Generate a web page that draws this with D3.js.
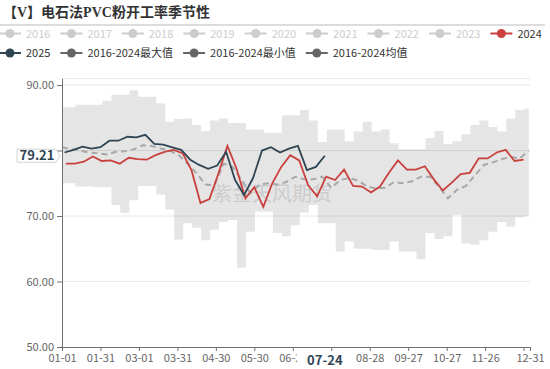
<!DOCTYPE html>
<html>
<head>
<meta charset="utf-8">
<script src="https://cdn.jsdelivr.net/npm/d3@7"></script>
<style>
body { margin: 0; background: #fff; }
svg { display: block; font-family: "Noto Sans CJK SC", "Noto Sans", sans-serif; }
</style>
</head>
<body>
<svg id="chart" width="550" height="369"></svg>
<script>
// weekly dates of the 2016-2024 statistics (placed on a 2024 calendar)
var weeks = ["01-01","01-08","01-15","01-22","01-29","02-05","02-12","02-19","02-26","03-04","03-11","03-18","03-25",
	"04-01","04-08","04-15","04-22","04-29","05-06","05-13","05-20","05-27","06-03","06-10","06-17","06-24",
	"07-01","07-08","07-15","07-22","07-29","08-05","08-12","08-19","08-26","09-02","09-09","09-16","09-23","09-30",
	"10-07","10-14","10-21","10-28","11-04","11-11","11-18","11-25","12-02","12-09","12-16","12-23","12-30"]
var maxVals = [86.6,86.6,87.0,87.0,87.0,87.6,88.5,88.5,89.2,88.2,88.2,87.2,84.4,84.8,84.9,83.9,83.0,84.6,84.9,84.2,
	84.2,83.2,83.2,82.7,82.7,85.4,85.4,86.2,84.6,81.3,83.2,83.2,81.4,82.9,84.4,82.9,83.2,81.1,80.2,80.2,
	80.2,81.9,83.0,81.0,81.4,82.5,83.9,84.6,83.6,82.9,84.9,86.2,86.4]
var minVals = [75.0,75.0,74.5,74.5,74.4,74.4,71.7,70.5,72.4,74.6,74.6,73.3,71.0,66.4,68.9,68.2,66.3,67.9,69.1,69.4,
	62.1,67.6,70.7,70.7,67.4,66.9,68.6,70.5,71.7,68.9,68.9,64.6,66.1,65.0,65.0,64.8,64.8,66.1,64.6,64.6,
	63.4,67.4,66.5,66.9,70.2,65.8,65.6,66.3,67.6,69.1,68.4,69.8,70.0]
var avgVals = [80.5,80.2,80.0,79.7,79.6,79.4,79.8,79.9,80.2,80.8,80.7,80.3,80.0,79.3,78.0,76.5,74.8,74.7,78.0,77.5,
	75.5,73.5,74.8,75.0,74.8,75.2,76.0,75.6,75.6,76.0,74.3,75.5,75.8,75.4,74.5,74.2,74.3,75.2,75.0,75.3,
	76.0,76.0,74.5,72.7,74.0,74.6,76.2,77.8,78.2,78.7,79.0,78.8,80.0]

var dates2024 = ["01-04","01-11","01-18","01-25","02-01","02-08","02-15","02-22","02-29","03-07","03-14","03-21","03-28",
	"04-04","04-11","04-18","04-25","05-02","05-09","05-16","05-23","05-30","06-06","06-13","06-20","06-27",
	"07-04","07-11","07-18","07-25","08-01","08-08","08-15","08-22","08-29","09-05","09-12","09-19","09-26",
	"10-03","10-10","10-17","10-24","10-31","11-07","11-14","11-21","11-28","12-05","12-12","12-19","12-26"]
var vals2024 = [78.0,78.0,78.3,79.1,78.4,78.5,78.0,78.9,78.7,78.6,79.3,79.8,80.1,79.6,77.0,72.0,72.6,76.5,80.7,77.3,
	72.7,74.4,71.4,75.0,77.5,79.3,78.5,74.7,73.0,76.0,75.5,77.1,74.6,74.5,73.6,74.5,76.6,78.5,77.1,77.1,
	77.6,75.6,73.9,75.1,76.4,76.6,78.8,78.8,79.7,80.1,78.4,78.6]

var dates2025 = ["01-03","01-10","01-17","01-24","01-31","02-07","02-14","02-21","02-28","03-06","03-13","03-20","03-27",
	"04-03","04-10","04-17","04-24","05-01","05-08","05-15","05-22","05-29","06-05","06-12","06-19","06-26",
	"07-03","07-10","07-17","07-24"]
var vals2025 = [79.7,80.1,80.6,80.3,80.5,81.5,81.5,82.1,82.0,82.4,81.0,80.9,80.5,80.1,78.6,77.8,77.2,77.7,79.8,75.5,
	73.2,75.8,80.0,80.5,79.7,80.3,80.7,77.0,77.5,79.21]

var yTicks = [50, 60, 70, 80, 90]
var xTicks = ["01-01","01-31","03-01","03-31","04-30","05-30","06-29","07-29","08-28","09-27","10-27","11-26","12-26","12-31"]
// labels that sit under the pointer label or crowd the last one
var xHidden = ["07-29", "12-26"]

var legendTop = ["2016","2017","2018","2019","2020","2021","2022","2023","2024"]
var legendBottom = ["2025","2016-2024最大值","2016-2024最小值","2016-2024均值"]

var pointerDate = "07-24", pointerValue = 79.21
var title = "【V】电石法PVC粉开工率季节性"

var parse = d3.timeParse("%Y-%m-%d")
function day(s) { return parse("2024-" + s) }

var svg = d3.select("#chart")

var x = d3.scaleTime()
	.domain([day("01-01"), day("12-31")])
	.range([62, 530])

var y = d3.scaleLinear()
	.domain([50, 91])
	.range([347, 78.5])

// title + separator
svg.append("text")
	.attr("x", 3).attr("y", 17)
	.attr("font-family", "'Liberation Serif', 'Noto Sans CJK SC', serif")
	.attr("font-size", 14).attr("font-weight", "bold")
	.attr("fill", "#333")
	.text(title)

svg.append("line")
	.attr("x1", 0).attr("x2", 545).attr("y1", 25).attr("y2", 25)
	.attr("stroke", "#dcdcdc").attr("stroke-width", 2)

// legend
var colors = {"2024": "#c9403c", "2025": "#2f4554", "2016-2024最大值": "#666", "2016-2024最小值": "#666", "2016-2024均值": "#666"}

function legendRow(items, yy) {
	var cx = -1
	items.forEach(function(name) {
		var c = colors[name] || "#ccc"
		var g = svg.append("g")
		g.append("line")
			.attr("x1", cx).attr("x2", cx + 22).attr("y1", yy).attr("y2", yy)
			.attr("stroke", c).attr("stroke-width", 2)
		g.append("circle")
			.attr("cx", cx + 11).attr("cy", yy).attr("r", 4.5)
			.attr("fill", c)
		var t = g.append("text")
			.attr("x", cx + 27).attr("y", yy + 4)
			.attr("font-size", 11)
			.attr("fill", colors[name] ? "#333" : "#ccc")
			.text(name)
		cx += 27 + t.node().getComputedTextLength() + 10
	})
}
legendRow(legendTop, 33.5)
legendRow(legendBottom, 53)

// grid
svg.append("g").selectAll("line")
	.data(yTicks.slice(1).concat([91]))
	.enter().append("line")
	.attr("x1", 62).attr("x2", 530)
	.attr("y1", d => y(d)).attr("y2", d => y(d))
	.attr("stroke", "#e8e8e8")

// min-max band
var band = weeks.map((w, i) => ({date: day(w), min: minVals[i], max: maxVals[i], avg: avgVals[i]}))

svg.append("path")
	.datum(band)
	.attr("fill", "#000").attr("fill-opacity", 0.1)
	.attr("d", d3.area()
		.x(d => x(d.date))
		.y0(d => y(d.min))
		.y1(d => y(d.max))
		.curve(d3.curveStep))

// watermark
svg.append("text")
	.attr("x", 272).attr("y", 201)
	.attr("text-anchor", "middle")
	.attr("font-size", 20)
	.attr("fill", "#bbb").attr("fill-opacity", 0.6)
	.text("紫金天风期货")

// lines
var line = d3.line().x(d => x(d.date)).y(d => y(d.v))

svg.append("path")
	.datum(band.map(d => ({date: d.date, v: d.avg})))
	.attr("fill", "none")
	.attr("stroke", "#a8a8a8").attr("stroke-width", 2)
	.attr("stroke-dasharray", "6,4")
	.attr("d", line)

svg.append("path")
	.datum(dates2024.map((s, i) => ({date: day(s), v: vals2024[i]})))
	.attr("fill", "none")
	.attr("stroke", colors["2024"]).attr("stroke-width", 1.8)
	.attr("d", line)

svg.append("path")
	.datum(dates2025.map((s, i) => ({date: day(s), v: vals2025[i]})))
	.attr("fill", "none")
	.attr("stroke", colors["2025"]).attr("stroke-width", 1.8)
	.attr("d", line)

// axes
var xAxis = svg.append("g")
	.attr("transform", "translate(0,347)")
	.call(d3.axisBottom(x)
		.tickValues(xTicks.map(day))
		.tickFormat(d3.timeFormat("%m-%d"))
		.tickSize(4)
		.tickSizeOuter(0))

xAxis.selectAll("text")
	.attr("font-size", 11).attr("fill", "#666")
	.attr("font-family", "'Noto Sans CJK SC', sans-serif")
	.filter(function() { return xHidden.indexOf(this.textContent) >= 0 })
	.remove()

var yAxis = svg.append("g")
	.attr("transform", "translate(62,0)")
	.call(d3.axisLeft(y)
		.tickValues(yTicks)
		.tickFormat(d3.format(".2f"))
		.tickSize(5)
		.tickSizeOuter(0))

yAxis.selectAll("text")
	.attr("font-size", 11).attr("fill", "#666")
	.attr("font-family", "'Noto Sans CJK SC', sans-serif")
	.filter(d => Math.abs(d - pointerValue) < 1.5)
	.remove()

svg.selectAll(".domain, .tick line").attr("stroke", "#6e7074")

// axis pointer labels
var px = x(day(pointerDate))
svg.append("rect")
	.attr("x", px - 28).attr("y", 351)
	.attr("width", 56).attr("height", 17)
	.attr("fill", "#fff")
svg.append("text")
	.attr("x", px).attr("y", 364.5)
	.attr("text-anchor", "middle")
	.attr("font-size", 13).attr("font-weight", "bold")
	.attr("fill", "#2f4554")
	.text(pointerDate)

var py = y(pointerValue)
svg.append("path")
	.attr("d", `M17,${py - 6.5}H56L60,${py}L56,${py + 6.5}H17Z`)
	.attr("fill", "#fff").attr("stroke", "#d4d4d4")
svg.append("text")
	.attr("x", 37).attr("y", py + 4.5)
	.attr("text-anchor", "middle")
	.attr("font-size", 13).attr("font-weight", "bold")
	.attr("fill", "#2f4554")
	.text(d3.format(".2f")(pointerValue))
</script>
</body>
</html>
